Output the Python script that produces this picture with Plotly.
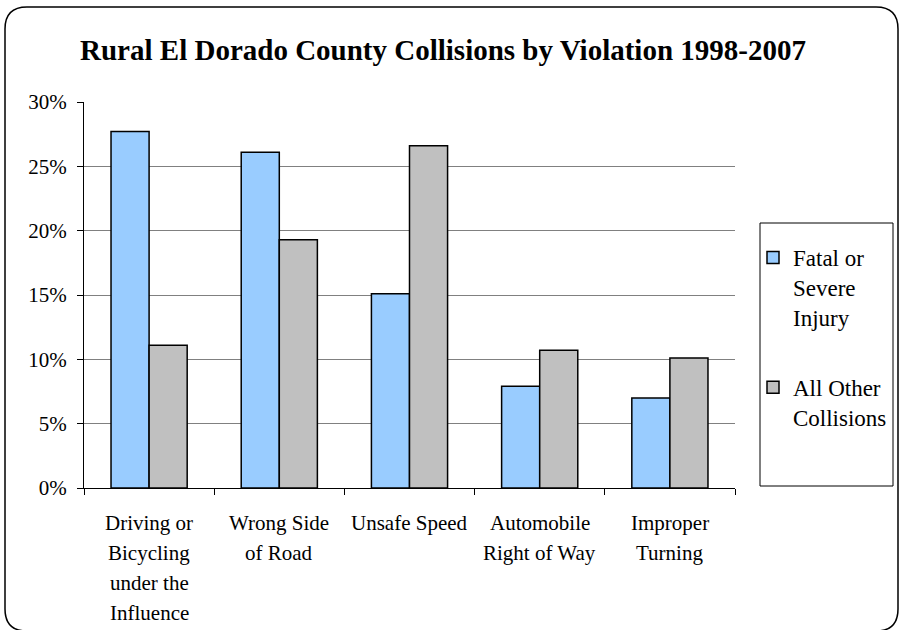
import plotly.graph_objects as go

categories = ["Driving or<br>Bicycling<br>under the<br>Influence", "Wrong Side<br>of Road",
              "Unsafe Speed", "Automobile<br>Right of Way", "Improper<br>Turning"]
series_names = ["Fatal or<br>Severe<br>Injury", "All Other<br>Collisions"]
fatal_severe = [0.277, 0.261, 0.151, 0.079, 0.070]
all_other = [0.111, 0.193, 0.266, 0.107, 0.101]
y_ticks = [0, 0.05, 0.10, 0.15, 0.20, 0.25, 0.30]
y_tick_labels = ["0%", "5%", "10%", "15%", "20%", "25%", "30%"]
title_text = "Rural El Dorado County Collisions by Violation 1998-2007"

FONT = "Liberation Serif"
W, H = 900, 630
L, R, T, B = 84, 735, 102, 488  # plot area in px
pw, ph = R - L, B - T

def px2x(px):
    return (px - L) / pw

def py2y(py):
    return (B - py) / ph

fig = go.Figure()
fig.add_trace(go.Bar(x=categories, y=fatal_severe, name=series_names[0],
                     marker=dict(color="#99CCFF", line=dict(color="black", width=1.5)),
                     legendgroup="a"))
fig.add_trace(go.Bar(x=categories, y=all_other, name=series_names[1],
                     marker=dict(color="#C0C0C0", line=dict(color="black", width=1.5)),
                     legendgroup="b"))

# multi-line category labels (Excel-like line spacing)
annotations = []
for cat in categories:
    for i, line in enumerate(cat.split("<br>")):
        annotations.append(dict(x=cat, xref="x", y=py2y(523 + 30 * i), yref="paper",
                                text=line, showarrow=False, xanchor="center", yanchor="middle",
                                font=dict(family=FONT, size=21, color="black")))

# rounded outer border
x0, x1, y0, y1, r = 5, 898, 7, 631, 22
def P(px, py):
    return f"{px2x(px):.5f},{py2y(py):.5f}"
path = (f"M {P(x0 + r, y0)} L {P(x1 - r, y0)} Q {P(x1, y0)} {P(x1, y0 + r)} "
        f"L {P(x1, y1 - r)} Q {P(x1, y1)} {P(x1 - r, y1)} "
        f"L {P(x0 + r, y1)} Q {P(x0, y1)} {P(x0, y1 - r)} "
        f"L {P(x0, y0 + r)} Q {P(x0, y0)} {P(x0 + r, y0)} Z")

shapes = [
    dict(type="path", path=path, xref="paper", yref="paper",
         line=dict(color="black", width=1.5), layer="above"),
    dict(type="rect", xref="paper", yref="paper", x0=px2x(760), x1=px2x(893),
         y0=py2y(486), y1=py2y(223), line=dict(color="black", width=1)),
]

fig.update_layout(
    width=W, height=H,
    margin=dict(l=L, r=W - R, t=T, b=H - B, autoexpand=False),
    paper_bgcolor="white", plot_bgcolor="white",
    font=dict(family=FONT, size=21, color="black"),
    title=dict(text="<b>" + title_text + "</b>", x=443 / W, xref="container", xanchor="center",
               y=1 - 50 / H, yref="container", yanchor="middle",
               font=dict(family=FONT, size=29, color="black")),
    barmode="group", bargap=0.415, bargroupgap=0,
    showlegend=True,
    legend=dict(x=px2x(753), y=py2y(236), xanchor="left", yanchor="top",
                bgcolor="rgba(0,0,0,0)", borderwidth=0,
                font=dict(family=FONT, size=23, color="black"),
                valign="top", traceorder="grouped", tracegroupgap=37),
    xaxis=dict(showticklabels=False, ticks="outside", tickson="boundaries", ticklen=6,
               tickcolor="black", showline=True, linecolor="black", linewidth=1,
               showgrid=False, zeroline=False),
    yaxis=dict(range=[0, 0.3], tickvals=y_ticks, ticktext=y_tick_labels,
               ticks="outside", ticklen=6, tickcolor="black", showline=True,
               linecolor="black", linewidth=1, showgrid=True, gridcolor="#808080",
               gridwidth=1, zeroline=False, ticklabelstandoff=6,
               tickfont=dict(family=FONT, size=21, color="black")),
    annotations=annotations,
    shapes=shapes,
)

fig.write_html("out.html", config={"displayModeBar": False},
               post_script="document.body.style.margin='0';document.body.style.overflow='hidden';")
